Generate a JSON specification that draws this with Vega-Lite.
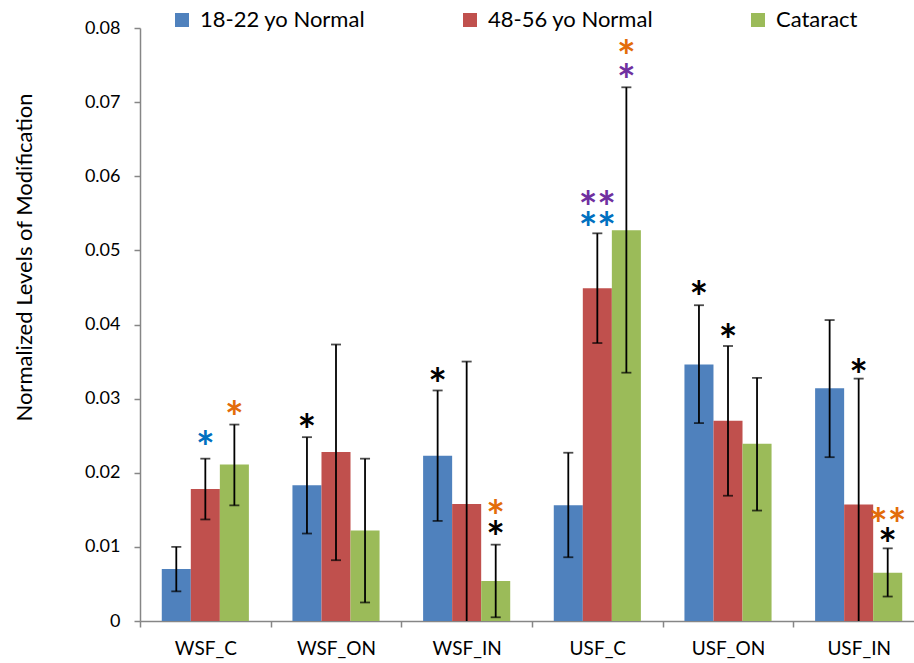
{
  "$schema": "https://vega.github.io/schema/vega-lite/v6.json",
  "autosize": "none",
  "width": 774,
  "height": 593,
  "padding": {"left": 140, "top": 28, "right": 0, "bottom": 42},
  "background": "white",
  "config": {
    "view": {"stroke": null},
    "font": "Lato",
    "axis": {"domainColor": "#868686", "tickColor": "#868686", "labelColor": "black", "titleColor": "black", "labelFont": "Lato", "titleFont": "Lato", "grid": false, "domainWidth": 1.5, "tickWidth": 1.5}
  },
  "datasets": {
    "bars": [
      {"cat": "WSF_C", "grp": "18-22 yo Normal", "v": 0.0070, "lo": 0.0040, "hi": 0.0100},
      {"cat": "WSF_C", "grp": "48-56 yo Normal", "v": 0.0178, "lo": 0.0137, "hi": 0.0219},
      {"cat": "WSF_C", "grp": "Cataract", "v": 0.0211, "lo": 0.0156, "hi": 0.0265},
      {"cat": "WSF_ON", "grp": "18-22 yo Normal", "v": 0.0183, "lo": 0.0118, "hi": 0.0248},
      {"cat": "WSF_ON", "grp": "48-56 yo Normal", "v": 0.0228, "lo": 0.0082, "hi": 0.0373},
      {"cat": "WSF_ON", "grp": "Cataract", "v": 0.0122, "lo": 0.0025, "hi": 0.0219},
      {"cat": "WSF_IN", "grp": "18-22 yo Normal", "v": 0.0223, "lo": 0.0135, "hi": 0.0311},
      {"cat": "WSF_IN", "grp": "48-56 yo Normal", "v": 0.0158, "lo": -0.0033, "hi": 0.0350},
      {"cat": "WSF_IN", "grp": "Cataract", "v": 0.0054, "lo": 0.0005, "hi": 0.0103},
      {"cat": "USF_C", "grp": "18-22 yo Normal", "v": 0.0156, "lo": 0.0086, "hi": 0.0227},
      {"cat": "USF_C", "grp": "48-56 yo Normal", "v": 0.0449, "lo": 0.0375, "hi": 0.0523},
      {"cat": "USF_C", "grp": "Cataract", "v": 0.0527, "lo": 0.0335, "hi": 0.0720},
      {"cat": "USF_ON", "grp": "18-22 yo Normal", "v": 0.0346, "lo": 0.0267, "hi": 0.0426},
      {"cat": "USF_ON", "grp": "48-56 yo Normal", "v": 0.0270, "lo": 0.0169, "hi": 0.0371},
      {"cat": "USF_ON", "grp": "Cataract", "v": 0.0239, "lo": 0.0149, "hi": 0.0328},
      {"cat": "USF_IN", "grp": "18-22 yo Normal", "v": 0.0314, "lo": 0.0221, "hi": 0.0406},
      {"cat": "USF_IN", "grp": "48-56 yo Normal", "v": 0.0157, "lo": -0.0013, "hi": 0.0327},
      {"cat": "USF_IN", "grp": "Cataract", "v": 0.0065, "lo": 0.0033, "hi": 0.0098}
    ],
    "marks": [
      {"cat": "WSF_C", "grp": "48-56 yo Normal", "txt": "*", "test": "t2", "ay": 0.0246},
      {"cat": "WSF_C", "grp": "Cataract", "txt": "*", "test": "t3", "ay": 0.0286},
      {"cat": "WSF_ON", "grp": "18-22 yo Normal", "txt": "*", "test": "t1", "ay": 0.0269},
      {"cat": "WSF_IN", "grp": "18-22 yo Normal", "txt": "*", "test": "t1", "ay": 0.0331},
      {"cat": "WSF_IN", "grp": "Cataract", "txt": "*", "test": "t3", "ay": 0.0153},
      {"cat": "WSF_IN", "grp": "Cataract", "txt": "*", "test": "t1", "ay": 0.0124},
      {"cat": "USF_C", "grp": "48-56 yo Normal", "txt": "**", "test": "t4", "ay": 0.0569},
      {"cat": "USF_C", "grp": "48-56 yo Normal", "txt": "**", "test": "t2", "ay": 0.0541},
      {"cat": "USF_C", "grp": "Cataract", "txt": "*", "test": "t3", "ay": 0.0773},
      {"cat": "USF_C", "grp": "Cataract", "txt": "*", "test": "t4", "ay": 0.0741},
      {"cat": "USF_ON", "grp": "18-22 yo Normal", "txt": "*", "test": "t1", "ay": 0.0448},
      {"cat": "USF_ON", "grp": "48-56 yo Normal", "txt": "*", "test": "t1", "ay": 0.0390},
      {"cat": "USF_IN", "grp": "48-56 yo Normal", "txt": "*", "test": "t1", "ay": 0.0342},
      {"cat": "USF_IN", "grp": "Cataract", "txt": "**", "test": "t3", "ay": 0.0141},
      {"cat": "USF_IN", "grp": "Cataract", "txt": "*", "test": "t1", "ay": 0.0114}
    ]
  },
  "encoding": {
    "x": {"field": "cat", "type": "nominal", "sort": ["WSF_C", "WSF_ON", "WSF_IN", "USF_C", "USF_ON", "USF_IN"],
      "scale": {"range": [0, 784], "paddingInner": 0, "paddingOuter": 0},
      "axis": {"title": null, "labelAngle": 0, "labelFontSize": 19, "tickBand": "extent", "tickSize": 6, "labelPadding": 12, "domainColor": "#868686"}},
    "xOffset": {"field": "grp", "type": "nominal", "sort": ["18-22 yo Normal", "48-56 yo Normal", "Cataract"], "scale": {"paddingInner": 0, "paddingOuter": 0.75}}
  },
  "layer": [
    {
      "data": {"name": "bars"},
      "mark": {"type": "bar"},
      "encoding": {
        "y": {"field": "v", "type": "quantitative", "scale": {"domain": [0, 0.08], "nice": false},
          "axis": {"title": "Normalized Levels of Modification", "titleFontSize": 22, "titleFontWeight": "normal", "titleX": -104, "titleY": 229, "labelFontSize": 18, "values": [0, 0.01, 0.02, 0.03, 0.04, 0.05, 0.06, 0.07, 0.08], "labelOverlap": false, "tickSize": 6, "labelPadding": 14, "format": "~g"}},
        "color": {"field": "grp", "type": "nominal", "sort": ["18-22 yo Normal", "48-56 yo Normal", "Cataract"],
          "scale": {"range": ["#4F81BD", "#C0504D", "#9BBB59"]},
          "legend": {"title": null, "orient": "none", "legendX": 31, "legendY": -19, "direction": "horizontal", "symbolType": "square", "symbolSize": 196, "symbolStrokeWidth": 0, "labelFontSize": 22, "labelFont": "Lato", "labelColor": "black", "labelLimit": 400, "columnPadding": 93, "labelOffset": 7}}
      }
    },
    {
      "data": {"name": "bars"},
      "mark": {"type": "rule", "color": "black", "strokeWidth": 1.8, "clip": true},
      "encoding": {"y": {"field": "lo", "type": "quantitative"}, "y2": {"field": "hi"}}
    },
    {
      "data": {"name": "bars"},
      "mark": {"type": "tick", "color": "black", "thickness": 1.8, "size": 10, "clip": true},
      "encoding": {"y": {"field": "lo", "type": "quantitative"}}
    },
    {
      "data": {"name": "bars"},
      "mark": {"type": "tick", "color": "black", "thickness": 1.8, "size": 10},
      "encoding": {"y": {"field": "hi", "type": "quantitative"}}
    },
    {
      "data": {"name": "marks"},
      "mark": {"type": "text", "font": "Lato", "fontSize": 44, "fontWeight": "bold", "baseline": "middle", "dy": 11},
      "encoding": {
        "y": {"field": "ay", "type": "quantitative"},
        "text": {"field": "txt"},
        "fill": {"field": "test", "type": "nominal", "scale": {"domain": ["t1", "t2", "t3", "t4"], "range": ["#000000", "#0070C0", "#E36C09", "#7030A0"]}, "legend": null}
      }
    }
  ]
}
